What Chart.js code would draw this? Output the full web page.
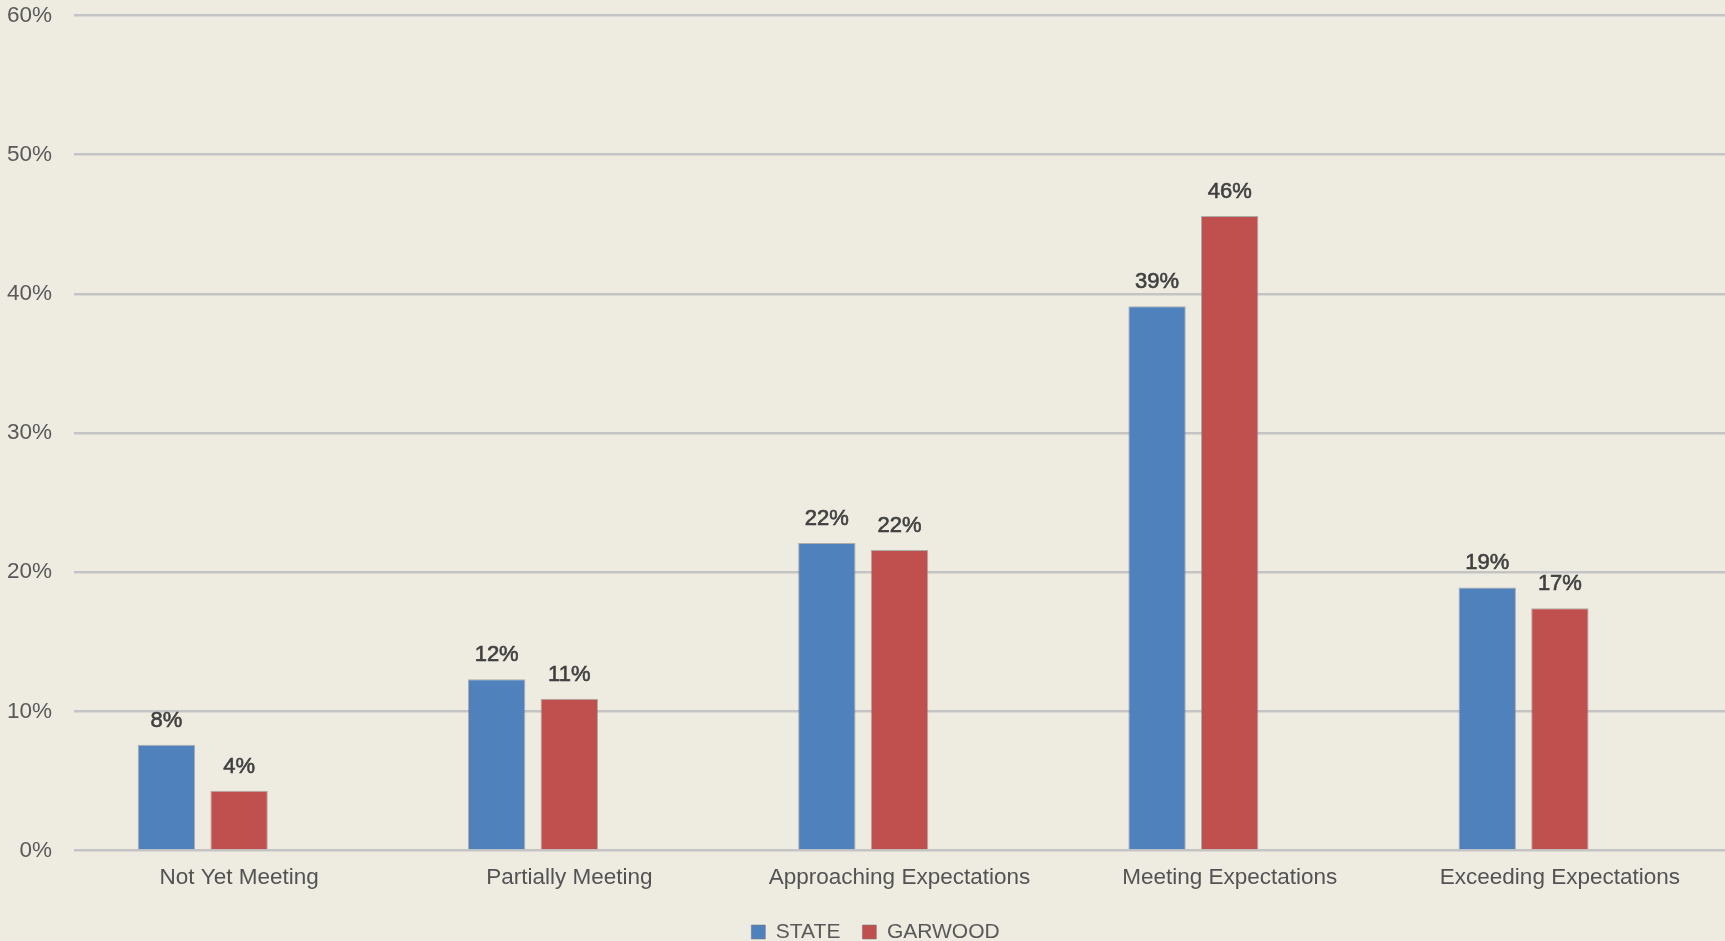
<!DOCTYPE html>
<html>
<head>
<meta charset="utf-8">
<script src="https://cdn.jsdelivr.net/npm/chart.js@4/dist/chart.umd.min.js"></script>
<style>
  html, body { margin: 0; padding: 0; background: #EEECE1; }
  #wrap { width: 1725px; height: 941px; }
</style>
</head>
<body>
<div id="wrap"><canvas id="c" width="1725" height="941"></canvas></div>
<script>
const categories = ["Not Yet Meeting", "Partially Meeting", "Approaching Expectations", "Meeting Expectations", "Exceeding Expectations"];
const stateValues = [7.6, 12.3, 22.1, 39.1, 18.9];
const garwoodValues = [4.3, 10.9, 21.6, 45.6, 17.4];
const stateLabels = ["8%", "12%", "22%", "39%", "19%"];
const garwoodLabels = ["4%", "11%", "22%", "46%", "17%"];
const yTicks = [0, 10, 20, 30, 40, 50, 60];

const FONT = "'Liberation Sans', Arial, sans-serif";

const valueLabels = {
  id: 'valueLabels',
  afterDatasetsDraw(chart) {
    const ctx = chart.ctx;
    const lists = [stateLabels, garwoodLabels];
    ctx.save();
    ctx.font = "22px " + FONT;
    ctx.fillStyle = '#404040';
    ctx.strokeStyle = '#404040';
    ctx.lineWidth = 0.6;
    ctx.textAlign = 'center';
    ctx.textBaseline = 'alphabetic';
    [0, 1].forEach(di => {
      const meta = chart.getDatasetMeta(di);
      meta.data.forEach((bar, i) => {
        ctx.fillText(lists[di][i], bar.x, bar.y - 18);
        ctx.strokeText(lists[di][i], bar.x, bar.y - 18);
      });
    });
    ctx.restore();
  }
};

const legendShift = {
  id: 'legendShift',
  afterLayout(chart) {
    if (chart.legend) { chart.legend.left += 13; chart.legend.right += 13; }
  }
};

new Chart(document.getElementById('c'), {
  type: 'bar',
  data: {
    labels: categories,
    datasets: [
      { label: 'STATE', data: stateValues, backgroundColor: '#4F81BD', borderColor: 'rgba(120,120,120,0.55)', borderWidth: 1 },
      { label: 'GARWOOD', data: garwoodValues, backgroundColor: '#C0504D', borderColor: 'rgba(120,120,120,0.55)', borderWidth: 1 },
      { label: '', data: categories.map(() => null), backgroundColor: 'rgba(0,0,0,0)' }
    ]
  },
  options: {
    responsive: false,
    animation: false,
    categoryPercentage: 0.66,
    barPercentage: 0.79,
    layout: { padding: { top: 0, right: 0, bottom: -11.5, left: 0 } },
    plugins: {
      tooltip: { enabled: false },
      legend: {
        position: 'bottom',
        labels: {
          filter: item => item.text !== '',
          boxWidth: 14,
          boxHeight: 14,
          padding: 22,
          color: '#595959',
          font: { family: FONT, size: 21 }
        }
      }
    },
    scales: {
      x: {
        afterFit: s => { s.height = 49; },
        grid: { display: false, drawTicks: false },
        border: { display: false },
        ticks: { color: '#535353', font: { family: FONT, size: 22.5 }, padding: 14, maxRotation: 0 }
      },
      y: {
        min: 0, max: 60,
        afterFit: s => { s.width = 74; s.paddingTop = 15.5; s.paddingBottom = 0; },
        afterBuildTicks: s => { s.ticks = yTicks.map(v => ({ value: v })); },
        grid: { color: '#C4C4C4', lineWidth: 2.5, drawTicks: false },
        border: { display: false },
        ticks: { color: '#595959', font: { family: FONT, size: 22.5 }, padding: 22, callback: v => v + '%' }
      }
    }
  },
  plugins: [valueLabels, legendShift]
});
</script>
</body>
</html>
